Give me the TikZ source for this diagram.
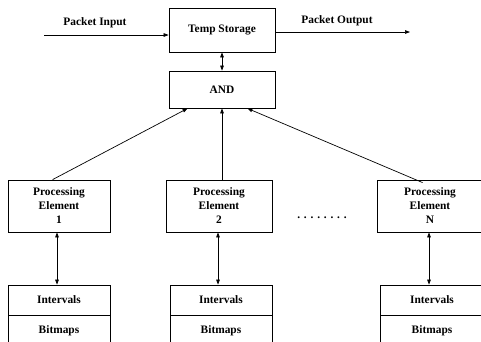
\documentclass[tikz,border=0pt]{standalone}
\usepackage{fontspec}
\setmainfont{Liberation Serif}
\usetikzlibrary{arrows.meta,calc}
\begin{document}
\begin{tikzpicture}[x=1pt,y=-1pt,
  box/.style={draw,line width=0.8pt,rectangle,inner sep=0pt,align=center,
    font=\fontsize{11.4}{14}\selectfont\bfseries},
  lbl/.style={inner sep=0pt,font=\fontsize{11.4}{14}\selectfont\bfseries},
  arr/.style={line width=0.7pt,-{Triangle[length=5pt,width=3.6pt]}},
  darr/.style={line width=0.7pt,{Triangle[length=5pt,width=3.6pt]}-{Triangle[length=5pt,width=3.6pt]}}]
\useasboundingbox (0,0) rectangle (481,341);
\begin{scope}
\clip (0,0) rectangle (481,341);
\node[box,minimum width=106pt,minimum height=44pt] (temp) at (222,30) {Temp Storage};
\node[box,minimum width=106pt,minimum height=37pt] (and) at (222,89.5) {AND};
\node[box,minimum width=102pt,minimum height=52pt] (pe1) at (59,206) {Processing\\Element\\1};
\node[box,minimum width=106pt,minimum height=52pt] (pe2) at (219,206) {Processing\\Element\\2};
\node[box,minimum width=106pt,minimum height=52pt] (pen) at (430,206) {Processing\\Element\\N};
\node[box,minimum width=102pt,minimum height=30pt] (iv1) at (59,300) {Intervals};
\node[box,minimum width=102pt,minimum height=30pt,anchor=north] (bm1) at (iv1.south) {Bitmaps};
\node[box,minimum width=102pt,minimum height=30pt] (iv2) at (221,300) {Intervals};
\node[box,minimum width=102pt,minimum height=30pt,anchor=north] (bm2) at (iv2.south) {Bitmaps};
\node[box,minimum width=104pt,minimum height=30pt] (ivn) at (432,300) {Intervals};
\node[box,minimum width=104pt,minimum height=30pt,anchor=north] (bmn) at (ivn.south) {Bitmaps};
\end{scope}
\node[lbl] (pin) at (95,23) {Packet Input};
\node[lbl] (pout) at (337,20.5) {Packet Output};
\node[lbl,anchor=base] (dots) at (322,218) {. . . . . . . .};
\coordinate (inStart) at (44,35);
\coordinate (outEnd) at (410,32);
\draw[arr] (inStart) -- (inStart -| temp.west);
\draw[arr] (outEnd -| temp.east) -- (outEnd);
\draw[darr] (temp.south) -- (and.north);
\draw[arr] ($(pe1.north west)+(45,0)$) -- ($(and.south west)+(19,0)$);
\draw[arr] (pe2.north -| and.south) -- (and.south);
\draw[arr] ($(pen.north west)+(46,3)$) -- ($(and.south east)+(-28,0)$);
\draw[darr] (pe1.south -| 57,0) -- (iv1.north -| 57,0);
\draw[darr] (pe2.south -| 218,0) -- (iv2.north -| 218,0);
\draw[darr] (pen.south -| 429,0) -- (ivn.north -| 429,0);
\end{tikzpicture}
\end{document}
